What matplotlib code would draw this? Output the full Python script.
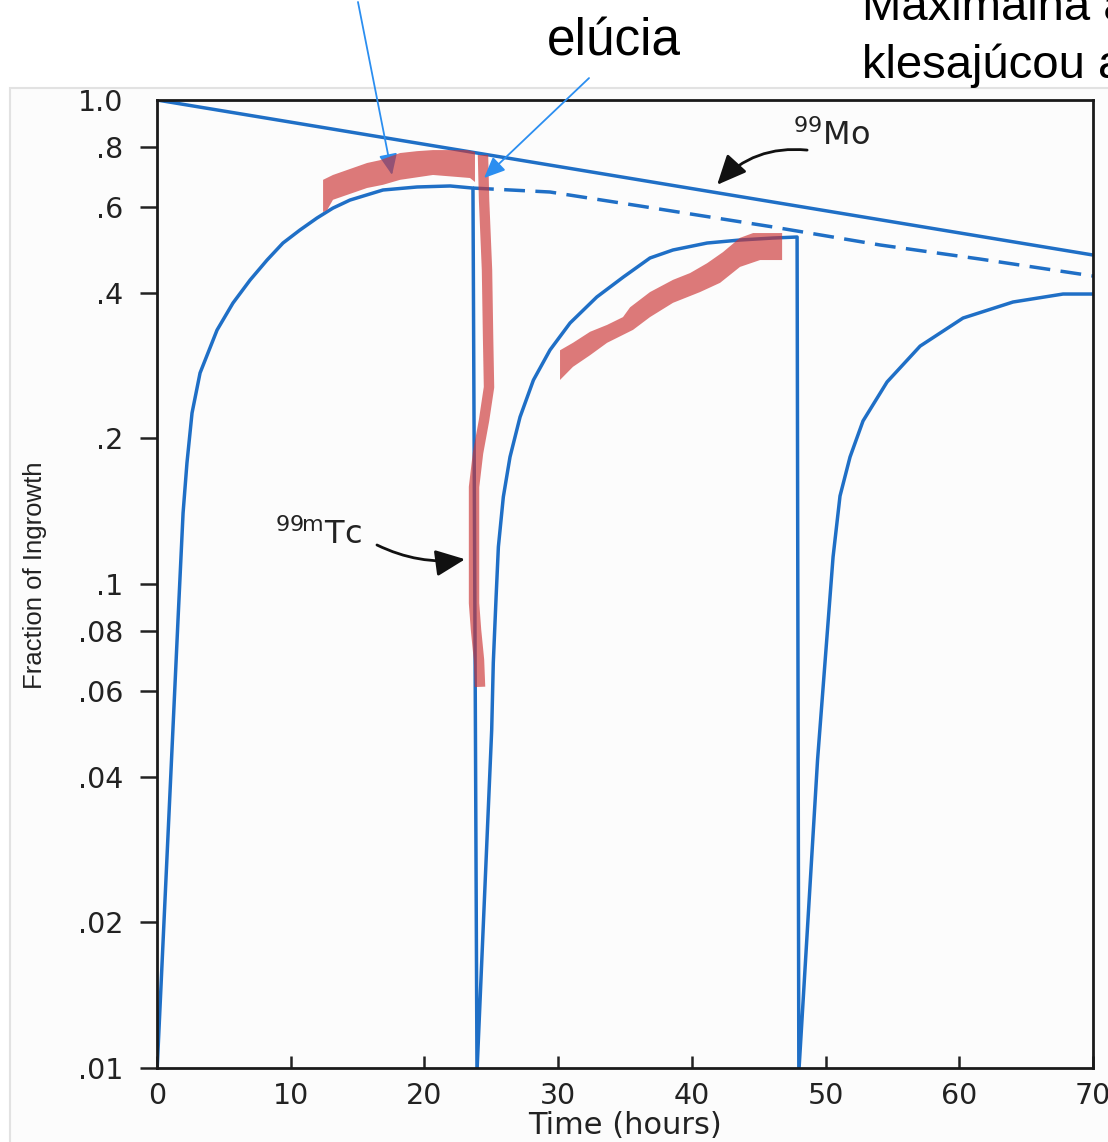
import matplotlib
matplotlib.use("Agg")
import matplotlib.pyplot as plt
from matplotlib import font_manager as fm
from matplotlib.patches import Polygon, Rectangle
from matplotlib.ticker import FixedLocator, NullLocator, FixedFormatter

# ---------------- data ----------------
mo_t = [0.0, 70.0]
mo_v = [1.0, 0.4783]

tc_t = [0.0, 1.57, 1.95, 2.24, 2.62, 3.22, 4.49, 5.68, 6.96, 8.23, 9.42, 10.69,
        11.97, 13.16, 14.43, 16.90, 19.45, 21.92, 23.63,
        23.93, 25.03, 25.15, 25.36, 25.53, 25.90, 26.40, 27.15, 28.15, 29.39,
        30.89, 32.89, 34.88, 36.87, 38.59, 41.14, 43.60, 46.07, 47.87,
        48.00, 49.40, 50.56, 51.08, 51.83, 52.80, 54.60, 57.07, 60.28, 64.02,
        67.76, 69.93]
tc_v = [0.0098, 0.0842, 0.1402, 0.1778, 0.2256, 0.2729, 0.3347, 0.3806, 0.4246,
        0.4670, 0.5064, 0.5387, 0.5705, 0.5980, 0.6212, 0.6517, 0.6611, 0.6643,
        0.6577,
        0.0098, 0.0499, 0.0687, 0.0940, 0.1193, 0.1513, 0.1830, 0.2213, 0.2638,
        0.3044, 0.3461, 0.3917, 0.4308, 0.4716, 0.4899, 0.5064, 0.5137, 0.5186,
        0.5211,
        0.0098, 0.0433, 0.1137, 0.1520, 0.1830, 0.2172, 0.2615, 0.3101, 0.3544,
        0.3825, 0.3973, 0.3973]

noelution_t = [23.63, 29.39, 36.13, 46.07, 54.08, 61.56, 70.0]
noelution_v = [0.6577, 0.6455, 0.6039, 0.5466, 0.5017, 0.4692, 0.4329]

x_ticks = [0, 10, 20, 30, 40, 50, 60, 70]
x_labels = ["0", "10", "20", "30", "40", "50", "60", "70"]
y_ticks = [0.01, 0.02, 0.04, 0.06, 0.08, 0.1, 0.2, 0.4, 0.6, 0.8, 1.0]
y_labels = [".01", ".02", ".04", ".06", ".08", ".1", ".2", ".4", ".6", ".8", "1.0"]

# hand-drawn highlight marks (hours, fraction)
band1_t = [12.42, 12.42, 13.16, 15.71, 16.68, 18.18, 19.45, 20.64, 23.19, 23.78,
           23.78, 23.41, 20.64, 18.18, 16.90, 15.71, 13.16, 12.94, 12.72]
band1_v = [0.587, 0.684, 0.700, 0.741, 0.751, 0.777, 0.784, 0.788, 0.788, 0.781,
           0.677, 0.690, 0.700, 0.684, 0.668, 0.658, 0.622, 0.607, 0.592]

band2_t = [30.14, 31.11, 32.39, 33.66, 34.85, 35.38, 36.87, 38.59, 39.87, 41.14,
           42.33, 43.60, 44.58, 46.75, 46.75, 45.10, 43.60, 42.11, 40.61, 38.59,
           36.87, 35.60, 33.66, 32.39, 31.11, 30.14]
band2_v = [0.304, 0.315, 0.332, 0.343, 0.356, 0.373, 0.401, 0.425, 0.439, 0.460,
           0.485, 0.519, 0.531, 0.531, 0.467, 0.467, 0.452, 0.419, 0.401, 0.381,
           0.356, 0.335, 0.315, 0.297, 0.281, 0.264]

stroke_t = [24.38, 24.46, 24.68, 24.76, 24.83, 24.46, 24.01, 23.71, 23.71, 23.71,
            23.86, 24.08, 24.16]
stroke_v = [0.770, 0.622, 0.445, 0.324, 0.255, 0.218, 0.1865, 0.1586, 0.1122,
            0.0913, 0.0803, 0.0697, 0.0613]

# annotation arrows (tail, tip) and label anchors in data units
arrow_top_tail = (15.03, 1.594)
arrow_top_tip = (17.58, 0.700)
arrow_eluc_tail = (32.31, 1.110)
arrow_eluc_tip = (24.46, 0.690)
mo_arrow_tail = (48.62, 0.788)
mo_arrow_tip = (41.89, 0.668)
tc_arrow_tail = (16.45, 0.1204)
tc_arrow_tip = (23.04, 0.1125)
mo_label_pos = (47.57, 0.807)
tc_label_pos = (8.83, 0.1212)

# ---------------- fonts ----------------
installed = {f.name for f in fm.fontManager.ttflist}
if "Liberation Sans Narrow" in installed:
    ylab_family, ylab_size = "Liberation Sans Narrow", 22.5
else:
    ylab_family, ylab_size = "Liberation Sans", 18.5

# ---------------- figure ----------------
W, H = 1108, 1142
fig = plt.figure(figsize=(W / 100, H / 100), dpi=100)
fig.patch.set_facecolor("white")

panel = Rectangle((10 / W, -0.01), 1.0, (H - 88) / H + 0.01, transform=fig.transFigure,
                  facecolor="#fcfcfc", edgecolor="#e2e2e2", lw=1.5, zorder=-5)
fig.patches.append(panel)

ax = fig.add_axes([157 / W, 1 - 1068 / H, (1093 - 157) / W, (1068 - 100) / H])
ax.set_facecolor("none")
ax.set_yscale("log")
ax.set_xlim(0, 70)
ax.set_ylim(0.01, 1.0)

blue = "#1f6fc6"
ax.plot(mo_t, mo_v, color=blue, lw=2.5, zorder=2, solid_capstyle="butt")
ax.plot(tc_t, tc_v, color=blue, lw=2.5, zorder=2, solid_joinstyle="round")
ax.plot(noelution_t, noelution_v, color=blue, lw=2.5, ls=(0, (6.0, 3.0)), zorder=2)

# ticks
ax.xaxis.set_major_locator(FixedLocator(x_ticks))
ax.xaxis.set_major_formatter(FixedFormatter(x_labels))
ax.xaxis.set_minor_locator(NullLocator())
ax.yaxis.set_major_locator(FixedLocator(y_ticks))
ax.yaxis.set_major_formatter(FixedFormatter(y_labels))
ax.yaxis.set_minor_locator(NullLocator())

ax.tick_params(axis="x", direction="in", length=9, width=1.8, pad=10,
               labelsize=20.5, colors="#222222", top=False)
ax.tick_params(axis="y", direction="out", length=12, width=1.8, pad=12,
               labelsize=20.5, colors="#222222", right=False)
for lab in ax.get_xticklabels() + ax.get_yticklabels():
    lab.set_family("DejaVu Sans")
ax.yaxis.get_major_ticks()[-1].tick1line.set_visible(False)

for s in ax.spines.values():
    s.set_linewidth(2.0)
    s.set_color("#1a1a1a")

ax.set_xlabel("Time (hours)", fontsize=22, family="DejaVu Sans", color="#222222",
              va="bottom")
ax.xaxis.set_label_coords(0.5, -0.0745)
ax.set_ylabel("Fraction of Ingrowth", fontsize=ylab_size, family=ylab_family,
              color="#222222")
ax.yaxis.set_label_coords(-0.118, 0.509)

# labels with arrows
ax.text(*mo_label_pos, r"$^{99}$Mo", fontsize=23, family="DejaVu Sans",
        ha="left", va="baseline", color="#222222", zorder=6)
ax.text(*tc_label_pos, r"$^{\mathrm{99m}}$Tc", fontsize=23, family="DejaVu Sans",
        ha="left", va="baseline", color="#222222", zorder=6)
ax.annotate("", xy=mo_arrow_tip, xytext=mo_arrow_tail,
            arrowprops=dict(arrowstyle="-|>,head_length=1.0,head_width=0.45",
                            color="#111111", lw=2.0, mutation_scale=18,
                            shrinkA=0, shrinkB=0,
                            connectionstyle="arc3,rad=0.25"), zorder=6)
ax.annotate("", xy=tc_arrow_tip, xytext=tc_arrow_tail,
            arrowprops=dict(arrowstyle="-|>,head_length=1.0,head_width=0.45",
                            color="#111111", lw=2.0, mutation_scale=18,
                            shrinkA=0, shrinkB=0,
                            connectionstyle="arc3,rad=0.15"), zorder=6)

# blue annotation arrows
lightblue = "#2b8ef0"
ax.annotate("", xy=arrow_top_tip, xytext=arrow_top_tail, annotation_clip=False,
            arrowprops=dict(arrowstyle="-|>,head_length=0.8,head_width=0.35",
                            color=lightblue, lw=1.3, mutation_scale=16,
                            shrinkA=0, shrinkB=0), zorder=3)

# red highlighter marks
red = "#cc3333"
ax.add_patch(Polygon(list(zip(band1_t, band1_v)), closed=True, facecolor=red,
                     edgecolor="none", alpha=0.65, zorder=4))
ax.add_patch(Polygon(list(zip(band2_t, band2_v)), closed=True, facecolor=red,
                     edgecolor="none", alpha=0.65, zorder=4))
ax.plot(stroke_t, stroke_v, color=red, lw=7.5, alpha=0.65, zorder=4,
        solid_capstyle="butt", solid_joinstyle="round")

ax.annotate("", xy=arrow_eluc_tip, xytext=arrow_eluc_tail, annotation_clip=False,
            arrowprops=dict(arrowstyle="-|>,head_length=0.8,head_width=0.35",
                            color=lightblue, lw=1.3, mutation_scale=16,
                            shrinkA=0, shrinkB=0), zorder=5)

# overlay text
fig.text(547 / W, 1 - 55 / H, "elúcia", fontsize=37, family="Liberation Sans",
         ha="left", va="baseline", color="black")
fig.text(862 / W, 1 - 20 / H, "Maximálna aktivita", fontsize=34,
         family="Liberation Sans", ha="left", va="baseline", color="black")
fig.text(862 / W, 1 - 78 / H, "klesajúcou aktivitou", fontsize=34,
         family="Liberation Sans", ha="left", va="baseline", color="black")

fig.savefig("out.png", dpi=100)
